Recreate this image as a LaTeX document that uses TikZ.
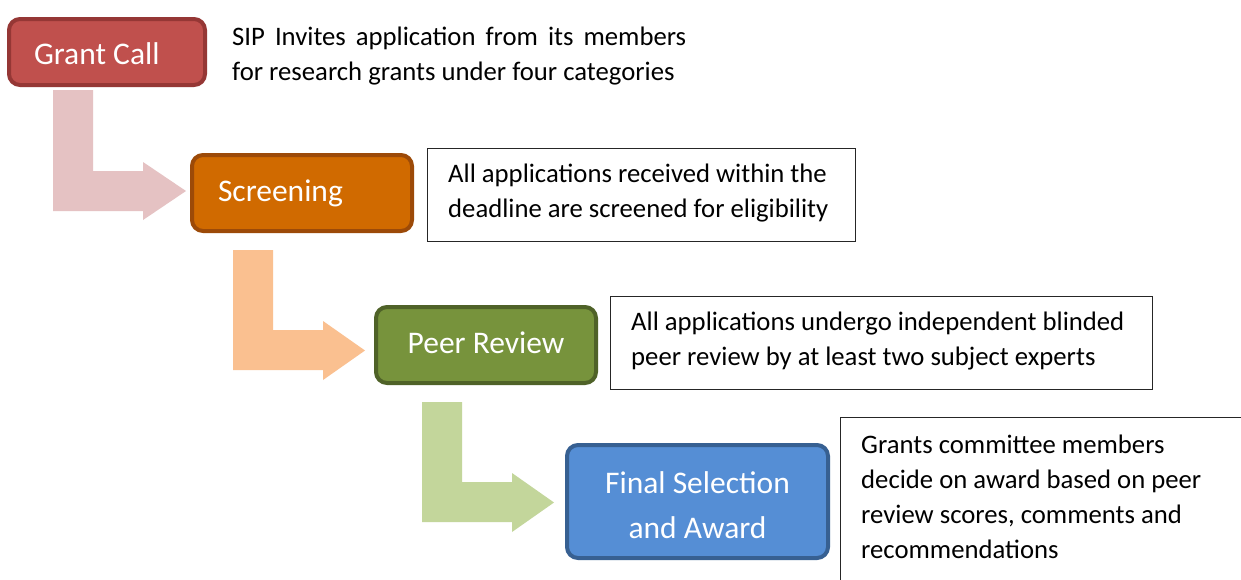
\documentclass[tikz,border=0pt]{standalone}
\usepackage{fontspec}
\setmainfont{Carlito}
\definecolor{gcfill}{HTML}{C0504D}
\definecolor{gcdraw}{HTML}{953735}
\definecolor{scfill}{HTML}{D06A00}
\definecolor{scdraw}{HTML}{9C4A08}
\definecolor{prfill}{HTML}{77933C}
\definecolor{prdraw}{HTML}{4F6228}
\definecolor{fsfill}{HTML}{558ED5}
\definecolor{fsdraw}{HTML}{376092}
\definecolor{arrpink}{HTML}{E5C2C3}
\definecolor{arrpeach}{HTML}{FAC090}
\definecolor{arrgreen}{HTML}{C3D69B}
\definecolor{boxline}{HTML}{262626}
\begin{document}
\begin{tikzpicture}[x=1pt,y=-1pt,
  stage/.style={draw, line width=4pt, rounded corners=11pt, text=white,
    font=\fontsize{31.5}{45}\selectfont, inner ysep=0pt},
  descbox/.style={draw=boxline, line width=1.2pt, fill=white, inner sep=0pt, anchor=north west},
  desc/.style={inner sep=0pt, anchor=base west},
  bentarrow/.style={draw=none}
]
\useasboundingbox (0,0) rectangle (1241,579);
\clip (0,0) rectangle (1241,579);
\fill[white] (0,0) rectangle (1241,579);

% bent block arrows
\fill[bentarrow, arrpink] (53,90) -- (93,90) -- (93,171) -- (143,171) -- (143,162) -- (186,191)
  -- (143,220) -- (143,211) -- (53,211) -- cycle;
\fill[bentarrow, arrpeach] (233,250) -- (273,250) -- (273,330) -- (323,330) -- (323,321) -- (365,350.5)
  -- (323,380) -- (323,370) -- (233,370) -- cycle;
\fill[bentarrow, arrgreen] (422,402) -- (462,402) -- (462,482) -- (512,482) -- (512,473) -- (554,502.5)
  -- (512,532) -- (512,522) -- (422,522) -- cycle;

% stage boxes
\node[stage, fill=gcfill, draw=gcdraw, minimum width=196pt, minimum height=66pt,
  inner xsep=25pt, text width=146pt, align=flush left, text height=25pt, text depth=0pt] (gc) at (107,52) {Grant Call};
\node[stage, fill=scfill, draw=scdraw, minimum width=220pt, minimum height=76pt,
  inner xsep=26pt, text width=168pt, align=flush left, text height=22.5pt, text depth=6.5pt] (sc) at (302,193) {Screening};
\node[stage, fill=prfill, draw=prdraw, minimum width=220pt, minimum height=76pt,
  inner xsep=10pt, text width=200pt, align=flush center, text height=22pt, text depth=6pt] (pr) at (486,345) {Peer Review};
\node[stage, fill=fsfill, draw=fsdraw, minimum width=261pt, minimum height=113pt,
  inner xsep=10pt, text width=241pt, align=flush center] (fs) at (697.5,501.5) {\rule{0pt}{29pt}Final Selection\\and Award};

% description boxes
\node[descbox, minimum width=428pt, minimum height=93pt] (d1) at (427,148) {};
\node[descbox, minimum width=542pt, minimum height=93pt] (d2) at (610,296) {};
\node[descbox, minimum width=440pt, minimum height=200pt] (d3) at (840,417) {};

% description texts
\node[desc] (t0) at (232,45) {\parbox[t]{454pt}{\fontsize{26.7}{35}\selectfont
  SIP Invites application from its members\linebreak for research grants under four categories}};
\node[desc] (t1) at (448,182) {\parbox[t]{400pt}{\fontsize{26.7}{35}\selectfont\raggedright
  All applications received within the\\deadline are screened for eligibility}};
\node[desc] (t2) at (631,330) {\parbox[t]{520pt}{\fontsize{26.7}{35}\selectfont\raggedright
  All applications undergo independent blinded\\peer review by at least two subject experts}};
\node[desc] (t3) at (861,453) {\parbox[t]{370pt}{\fontsize{26.7}{35}\selectfont\raggedright
  Grants committee members\\decide on award based on peer\\review scores, comments and\\recommendations}};
\end{tikzpicture}
\end{document}
